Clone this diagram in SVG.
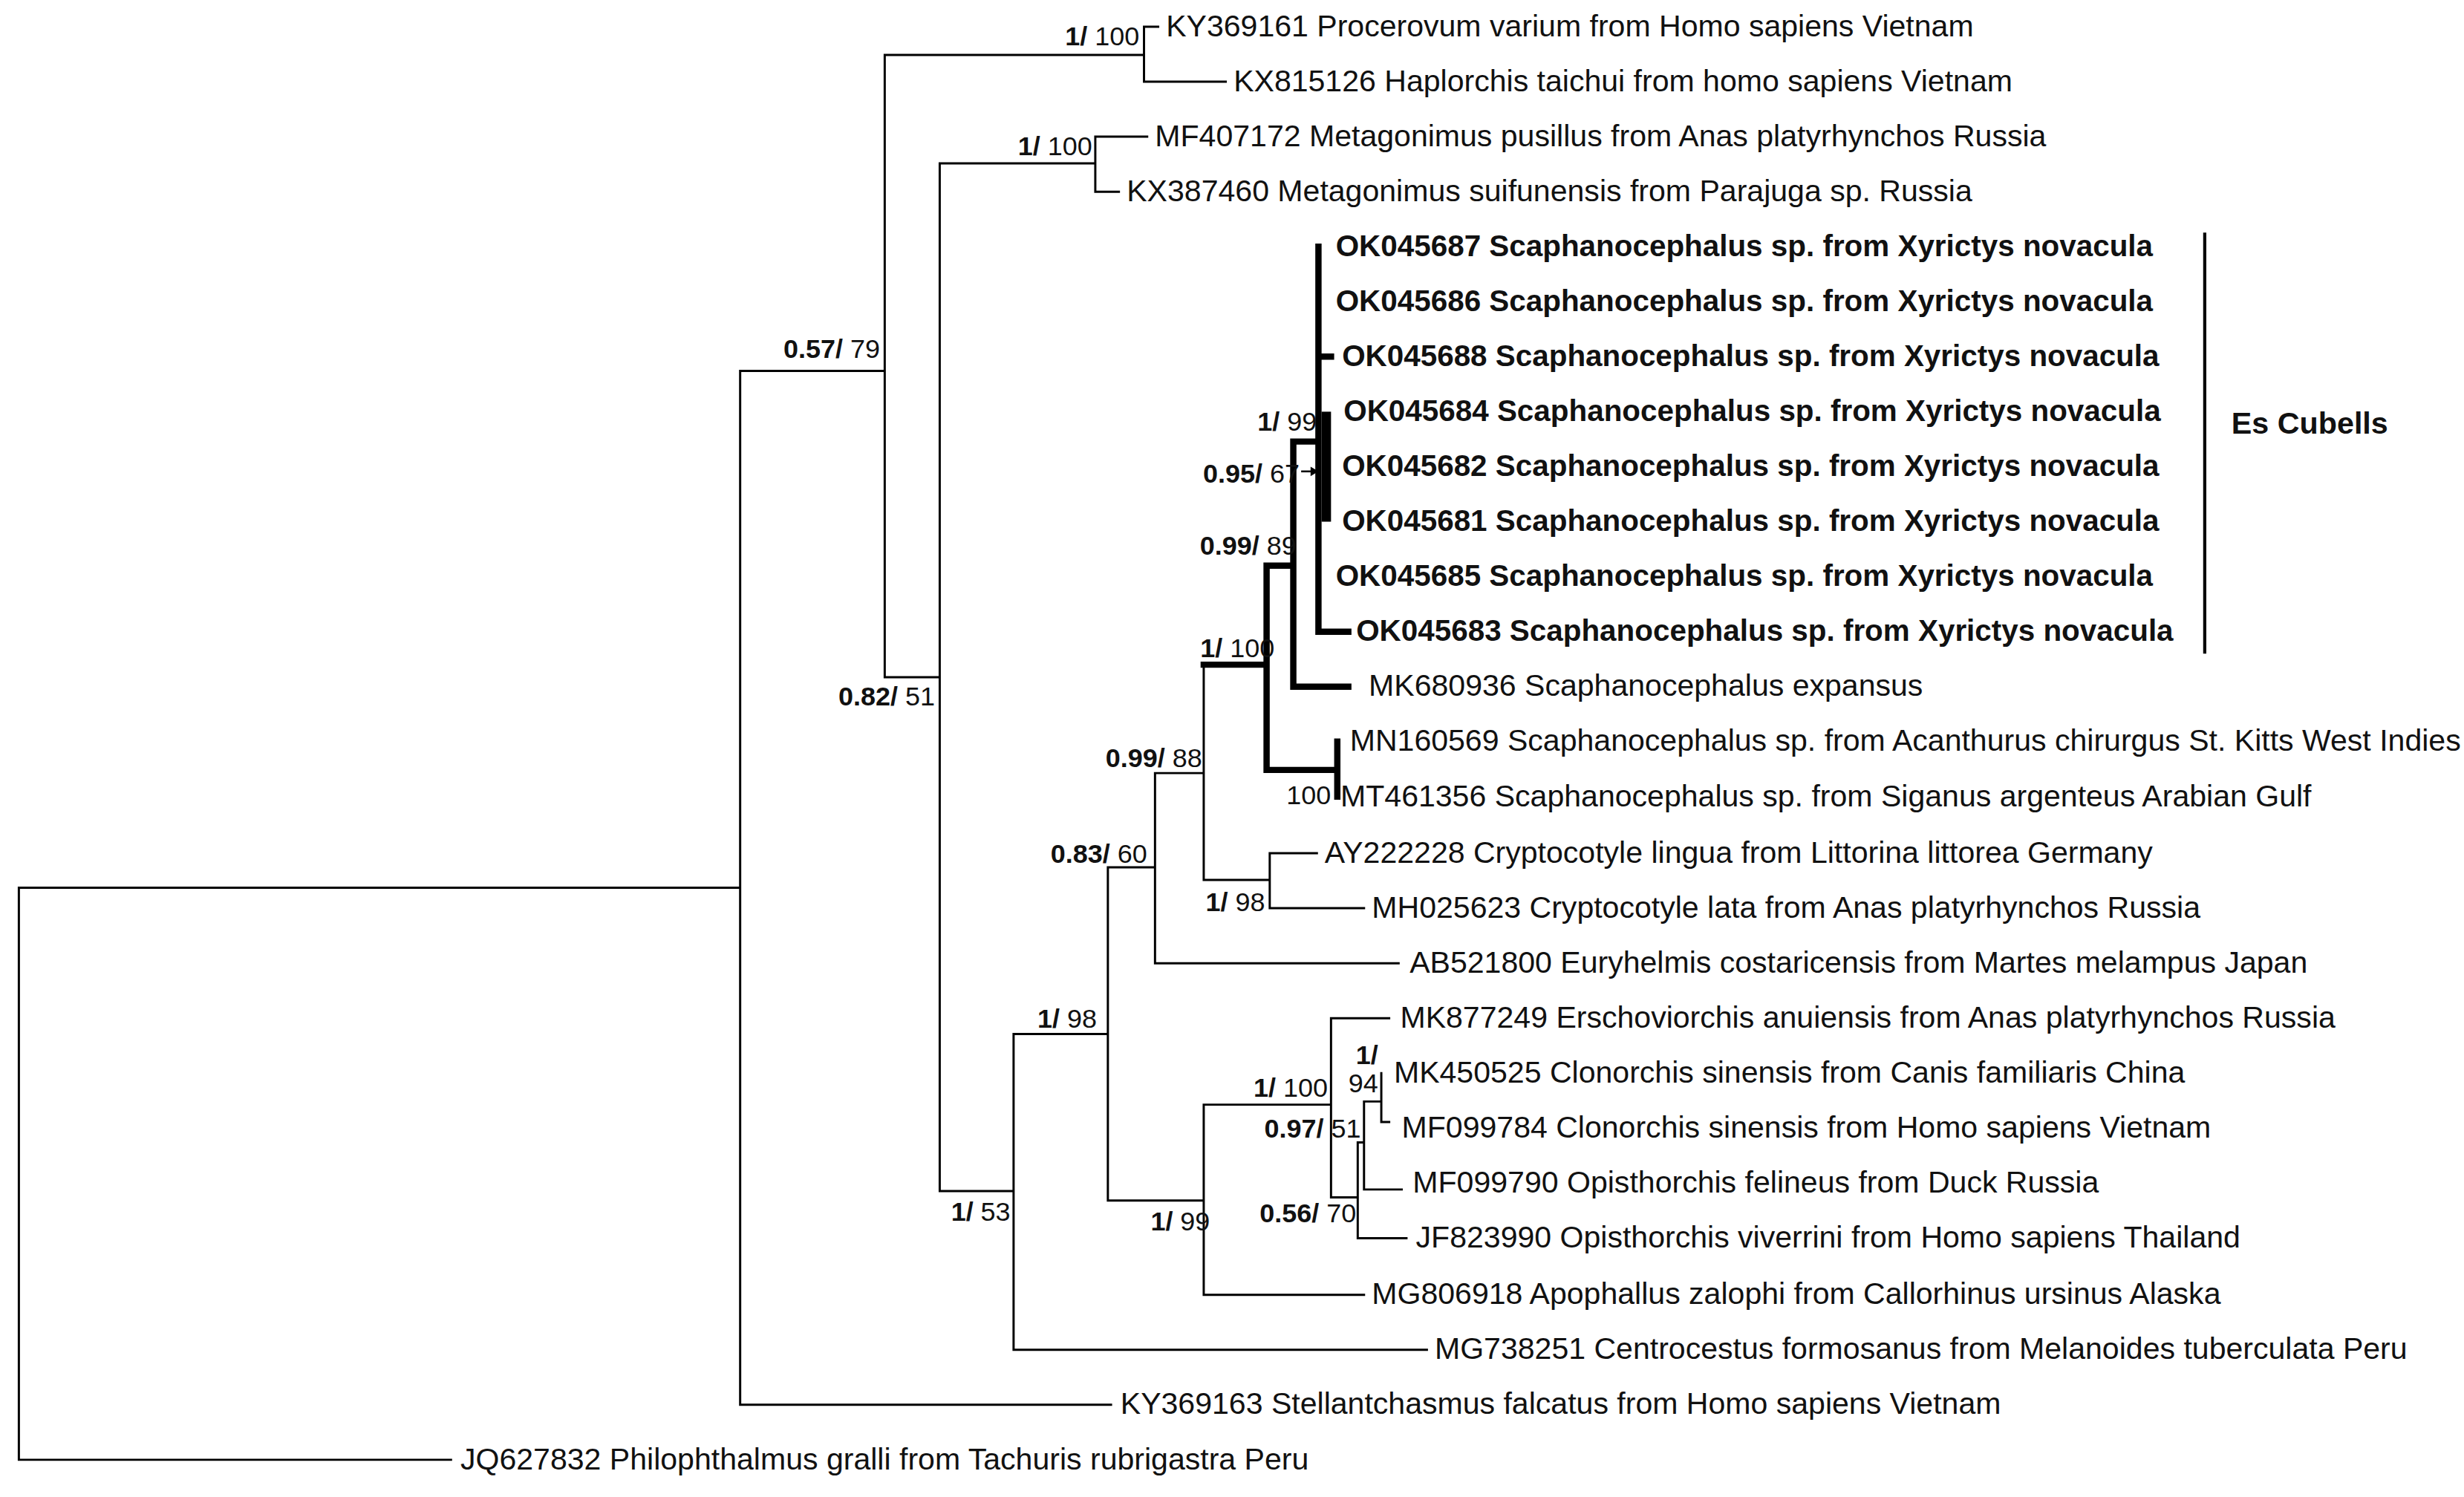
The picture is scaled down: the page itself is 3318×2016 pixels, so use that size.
<svg xmlns="http://www.w3.org/2000/svg" width="3318" height="2016" viewBox="0 0 3318 2016">
<style>
.t{font-family:"Liberation Sans",Arial,sans-serif;font-size:19.4px;fill:#111}
.b{font-weight:bold}
.tb{font-size:19.1px}
.l{font-family:"Liberation Sans",Arial,sans-serif;font-size:17px;fill:#111;text-anchor:end}
.e{stroke:#000;stroke-width:1.4;fill:none;stroke-linecap:square}
.k{stroke:#000;stroke-width:4;fill:none;stroke-linecap:square}
</style>
<rect width="3318" height="2016" fill="#fff"/>
<g transform="scale(2.1161)">
<g id="edges">
<path class="e" d="M12,565V929M12,565H471M12,929H287M471,236V894M471,236H563M471,894H707M563,35V431M563,35H728M563,431H598M728,17V52M728,17H737M728,52H780M598,104V758M598,104H697M598,758H645M697,87V122M697,87H730M697,122H712M645,658V859M645,658H705M645,859H908M705,552V764M705,552H735M705,764H766M735,492V613M735,492H766M735,613H890M766,423V560M766,560H808M808,543V578M808,543H838M808,578H868M766,703V824M766,703H847M766,824H868M847,648V762M847,648H884M847,762H864M864,727V788M864,727H868M864,788H895M868,701V757M868,701H879M868,757H892M879,683V714M879,714H884"/>
<path class="k" d="M766,423H806M806,360V490M806,360H823M806,490H851M851,472V507M823,281V437M823,281H839M823,437H858M839,157V402M839,402H858M839,227H847"/>
<rect x="841" y="262" width="6" height="70" fill="#000"/>
<path d="M828,300H836" stroke="#000" stroke-width="1.2"/>
<path d="M834,297L839,300L834,303Z" fill="#000"/>
<path d="M1403,148V416" stroke="#000" stroke-width="2"/>
</g>
<g id="leaves">
<text class="t" x="742" y="23">KY369161 Procerovum varium from Homo sapiens Vietnam</text>
<text class="t" x="785" y="58">KX815126 Haplorchis taichui from homo sapiens Vietnam</text>
<text class="t" x="735" y="93">MF407172 Metagonimus pusillus from Anas platyrhynchos Russia</text>
<text class="t" x="717" y="128">KX387460 Metagonimus suifunensis from Parajuga sp. Russia</text>
<text class="t b tb" x="850" y="163">OK045687 Scaphanocephalus sp. from Xyrictys novacula</text>
<text class="t b tb" x="850" y="198">OK045686 Scaphanocephalus sp. from Xyrictys novacula</text>
<text class="t b tb" x="854" y="233">OK045688 Scaphanocephalus sp. from Xyrictys novacula</text>
<text class="t b tb" x="855" y="268">OK045684 Scaphanocephalus sp. from Xyrictys novacula</text>
<text class="t b tb" x="854" y="303">OK045682 Scaphanocephalus sp. from Xyrictys novacula</text>
<text class="t b tb" x="854" y="338">OK045681 Scaphanocephalus sp. from Xyrictys novacula</text>
<text class="t b tb" x="850" y="373">OK045685 Scaphanocephalus sp. from Xyrictys novacula</text>
<text class="t b tb" x="863" y="408">OK045683 Scaphanocephalus sp. from Xyrictys novacula</text>
<text class="t" x="871" y="443">MK680936 Scaphanocephalus expansus</text>
<text class="t" x="859" y="478">MN160569 Scaphanocephalus sp. from Acanthurus chirurgus St. Kitts West Indies</text>
<text class="t" x="853" y="513">MT461356 Scaphanocephalus sp. from Siganus argenteus Arabian Gulf</text>
<text class="t" x="843" y="549">AY222228 Cryptocotyle lingua from Littorina littorea Germany</text>
<text class="t" x="873" y="584">MH025623 Cryptocotyle lata from Anas platyrhynchos Russia</text>
<text class="t" x="897" y="619">AB521800 Euryhelmis costaricensis from Martes melampus Japan</text>
<text class="t" x="891" y="654">MK877249 Erschoviorchis anuiensis from Anas platyrhynchos Russia</text>
<text class="t" x="887" y="689">MK450525 Clonorchis sinensis from Canis familiaris China</text>
<text class="t" x="892" y="724">MF099784 Clonorchis sinensis from Homo sapiens Vietnam</text>
<text class="t" x="899" y="759">MF099790 Opisthorchis felineus from Duck Russia</text>
<text class="t" x="901" y="794">JF823990 Opisthorchis viverrini from Homo sapiens Thailand</text>
<text class="t" x="873" y="830">MG806918 Apophallus zalophi from Callorhinus ursinus Alaska</text>
<text class="t" x="913" y="865">MG738251 Centrocestus formosanus from Melanoides tuberculata Peru</text>
<text class="t" x="713" y="900">KY369163 Stellantchasmus falcatus from Homo sapiens Vietnam</text>
<text class="t" x="293" y="935">JQ627832 Philophthalmus gralli from Tachuris rubrigastra Peru</text>
<text class="t b" x="1420" y="276" style="font-size:19.5px">Es Cubells</text>
</g>
<g id="support">
<text class="l" x="725" y="29"><tspan class="b">1/</tspan> 100</text>
<text class="l" x="695" y="99"><tspan class="b">1/</tspan> 100</text>
<text class="l" x="560" y="228"><tspan class="b">0.57/</tspan> 79</text>
<text class="l" x="595" y="449"><tspan class="b">0.82/</tspan> 51</text>
<text class="l" x="838" y="274"><tspan class="b">1/</tspan> 99</text>
<text class="l" x="827" y="307"><tspan class="b">0.95/</tspan> 67</text>
<text class="l" x="825" y="353"><tspan class="b">0.99/</tspan> 89</text>
<text class="l" x="811" y="418"><tspan class="b">1/</tspan> 100</text>
<text class="l" x="765" y="488"><tspan class="b">0.99/</tspan> 88</text>
<text class="l" x="847" y="512">100</text>
<text class="l" x="730" y="549"><tspan class="b">0.83/</tspan> 60</text>
<text class="l" x="805" y="580"><tspan class="b">1/</tspan> 98</text>
<text class="l" x="698" y="654"><tspan class="b">1/</tspan> 98</text>
<text class="l" x="845" y="698"><tspan class="b">1/</tspan> 100</text>
<text class="l" x="866" y="724"><tspan class="b">0.97/</tspan> 51</text>
<text class="l b" x="877" y="677">1/</text>
<text class="l" x="877" y="695">94</text>
<text class="l" x="863" y="778"><tspan class="b">0.56/</tspan> 70</text>
<text class="l" x="770" y="783"><tspan class="b">1/</tspan> 99</text>
<text class="l" x="643" y="777"><tspan class="b">1/</tspan> 53</text>
</g>
</g>
</svg>
